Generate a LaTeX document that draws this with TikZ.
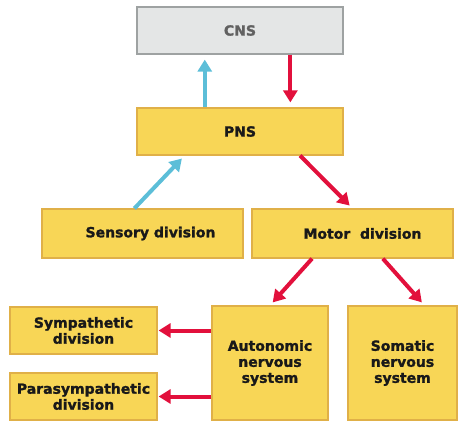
\documentclass[tikz,border=0pt]{standalone}
\usepackage{fontspec}
\setmainfont{DejaVu Sans}
\newfontfamily\heavyfont{DejaVu Sans Bold}[FakeBold=1.4]
\usetikzlibrary{arrows.meta,calc}

\definecolor{boxfill}{RGB}{248,214,86}
\definecolor{boxline}{RGB}{224,176,72}
\definecolor{cnsfill}{RGB}{228,230,230}
\definecolor{cnsline}{RGB}{158,162,162}
\definecolor{nervered}{RGB}{226,16,60}
\definecolor{nerveblue}{RGB}{92,190,216}

\tikzset{
  division/.style={draw=boxline, fill=boxfill, line width=1.2pt, inner sep=0pt,
    align=center, text=black!90, font=\fontsize{14}{16}\heavyfont},
  centre/.style={division, draw=cnsline, fill=cnsfill, text=black!62},
  motorpath/.style={draw=nervered, line width=4pt, -{Triangle[width=14pt,length=12pt]}},
  sensepath/.style={draw=nerveblue, line width=4pt, -{Triangle[width=14pt,length=12pt]}}
}

\begin{document}
\begin{tikzpicture}[x=1pt,y=-1pt]
		%%%%% START %%%%%
		\useasboundingbox (0,0) rectangle (458,421);
		
		\node[centre, minimum width=206pt, minimum height=47pt] (cns) at (240,30.5) {CNS};
		\node[division, minimum width=206pt, minimum height=47pt] (pns) at (240,131.5) {PNS};
		
		\node[division, minimum width=201pt, minimum height=49pt] (sensory) at (142.5,233.5) {\hspace*{16pt}Sensory division};
		\node[division, minimum width=201pt, minimum height=49pt] (motor) at (352.5,233.5) {\hspace*{20pt}Motor\ \ division};
		
		\node[division, minimum width=116pt, minimum height=114pt] (autonomic) at (270,363) {Autonomic\\nervous\\system};
		\node[division, minimum width=109pt, minimum height=114pt] (somatic) at (402.5,363) {Somatic\\nervous\\system};
		
		\node[division, minimum width=147pt, minimum height=47pt] (sympathetic) at (83.5,330.5) {Sympathetic\\division};
		\node[division, minimum width=147pt, minimum height=47pt] (parasympathetic) at (83.5,396.5) {Parasympathetic\\division};
		
		% afferent side
		\draw[sensepath, shorten >=5pt] ($(pns.north west)!0.33!(pns.north east)$) -- ($(cns.south west)!0.33!(cns.south east)$);
		\draw[sensepath, shorten >=4pt] ($(sensory.north west)!0.46!(sensory.north east)$) -- ($(pns.south west)!0.233!(pns.south east)$);
		
		% efferent side
		\draw[motorpath, shorten >=5pt] ($(cns.south west)!0.743!(cns.south east)$) -- ($(pns.north west)!0.743!(pns.north east)$);
		\draw[motorpath, shorten >=4pt] ($(pns.south west)!0.79!(pns.south east)$) -- (motor.north);
		\draw[motorpath, shorten >=4pt] ($(motor.south west)!0.3!(motor.south east)$) -- (autonomic.north);
		\draw[motorpath, shorten >=4pt] ($(motor.south west)!0.65!(motor.south east)$) -- ($(somatic.north west)!0.7!(somatic.north east)$);
		\draw[motorpath, shorten >=1pt] (autonomic.west |- sympathetic) -- (sympathetic);
		\draw[motorpath, shorten >=1pt] (autonomic.west |- parasympathetic) -- (parasympathetic);
		
		%%%%% END %%%%%
\end{tikzpicture}
\end{document}
